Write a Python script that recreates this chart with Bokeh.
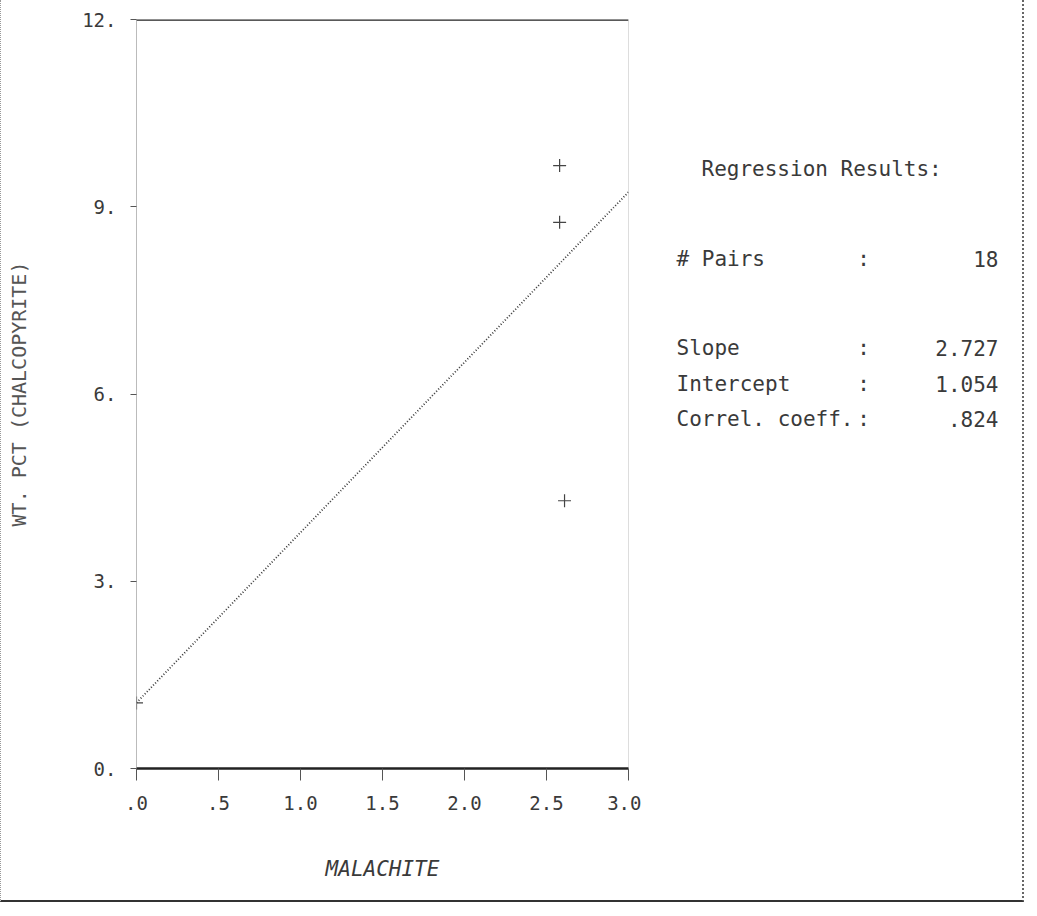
from bokeh.plotting import figure
from bokeh.models import Range1d, FixedTicker, Label, Span
from bokeh.layouts import row
from bokeh.embed import file_html
from bokeh.resources import INLINE

# ---- data ----
malachite = [0.0, 2.58, 2.58, 2.61]
other = [1.05, 9.66, 8.75, 4.29]
n_pairs = 18
slope = 2.727
intercept = 1.054
correl = 0.824

x_ticks = [0, 0.5, 1.0, 1.5, 2.0, 2.5, 3.0]
x_tick_labels = [".0", ".5", "1.0", "1.5", "2.0", "2.5", "3.0"]
y_ticks = [0, 3, 6, 9, 12]
y_tick_labels = ["0.", "3.", "6.", "9.", "12."]
x_title = "MALACHITE"
y_title = "WT. PCT (CHALCOPYRITE)"
panel_title = "Regression Results:"
row_names = ["# Pairs", "Slope", "Intercept", "Correl. coeff."]
row_values = [str(n_pairs), f"{slope:.3f}", f"{intercept:.3f}", f"{correl:.3f}".lstrip("0")]

FONT = "DejaVu Sans Mono"
INK = "#3a3a3a"
W_MAIN = 640
W_PANEL = 381
H = 900
FRAME_TOP = 19
FRAME_BOTTOM = 768

p = figure(width=W_MAIN, height=H, output_backend="svg", toolbar_location=None,
           x_range=Range1d(0, 3), y_range=Range1d(0, 12),
           min_border_left=135, min_border_right=13, min_border_top=FRAME_TOP,
           min_border_bottom=H - FRAME_BOTTOM, title=None)
p.grid.visible = False
p.outline_line_color = None

# x axis
xa = p.xaxis[0]
xa.ticker = FixedTicker(ticks=x_ticks)
xa.major_label_overrides = {t: l for t, l in zip(x_ticks, x_tick_labels)}
xa.minor_tick_line_color = None
xa.major_tick_out = 12
xa.major_tick_in = 0
xa.major_tick_line_color = "#555555"
xa.axis_line_color = "#222222"
xa.axis_line_width = 2.5
xa.major_label_standoff = 15
xa.major_label_text_font = FONT
xa.major_label_text_font_size = "19px"
xa.major_label_text_color = INK
xa.axis_label = x_title
xa.axis_label_text_font = FONT
xa.axis_label_text_font_size = "21px"
xa.axis_label_text_font_style = "italic"
xa.axis_label_text_color = INK
xa.axis_label_standoff = 44

# y axis
ya = p.yaxis[0]
ya.ticker = FixedTicker(ticks=y_ticks)
ya.major_label_overrides = {t: l for t, l in zip(y_ticks, y_tick_labels)}
ya.minor_tick_line_color = None
ya.major_tick_out = 6
ya.major_tick_in = 0
ya.major_tick_line_color = "#555555"
ya.axis_line_color = "#777777"
ya.axis_line_width = 1
ya.axis_line_dash = "1 1"
ya.major_label_standoff = 14
ya.major_label_text_font = FONT
ya.major_label_text_font_size = "19px"
ya.major_label_text_color = INK
ya.axis_label = y_title
ya.axis_label_text_font = FONT
ya.axis_label_text_font_size = "20px"
ya.axis_label_text_font_style = "normal"
ya.axis_label_text_color = "#555555"
ya.axis_label_standoff = 48

# frame top and right lines
p.add_layout(Span(location=12, dimension="width", line_color="#222222", line_width=2.5))
p.add_layout(Span(location=3, dimension="height", line_color="#777777", line_width=1,
                  line_dash="1 1"))

# regression line
xs_fit = [x_ticks[0], x_ticks[-1]]
ys_fit = [intercept + slope * x for x in xs_fit]
p.line(xs_fit, ys_fit, line_color="#3a3a3a", line_width=1.8, line_dash="1 2")

# data points
p.scatter(malachite, other, marker="cross", size=13, line_color="#444444", line_width=1.2)

# ---- regression results panel (pixel coordinates of the page) ----
# the row aligns this frame with the chart frame, so the y range spans the frame
q = figure(width=W_PANEL, height=H, output_backend="svg", toolbar_location=None,
           x_range=Range1d(W_MAIN, W_MAIN + W_PANEL),
           y_range=Range1d(FRAME_BOTTOM, FRAME_TOP),
           x_axis_type=None, y_axis_type=None, min_border=0, title=None)
q.grid.visible = False
q.outline_line_color = None

def lbl(text, x, y, align="left", size="21px"):
    q.add_layout(Label(x=x, y=y, text=text, text_font=FONT, text_font_size=size,
                       text_color=INK, text_align=align, text_baseline="middle"))

lbl(panel_title, 700, 168)
row_y = [258, 347, 383, 418]
for name, val, yy in zip(row_names, row_values, row_y):
    lbl(name, 675, yy)
    lbl(":", 862, yy, align="center")
    lbl(val, 997, yy, align="right")

layout = row(p, q, styles={"border-bottom": "2px solid #333333",
                           "border-right": "2px dotted #666666",
                           "border-left": "1px dotted #999999"})

open("out.html", "w").write(file_html(layout, INLINE))
